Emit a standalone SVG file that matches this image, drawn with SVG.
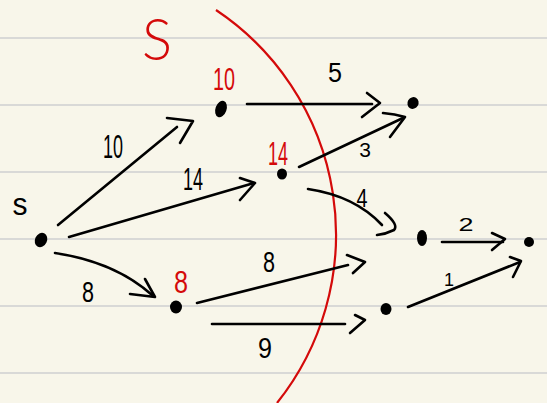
<svg xmlns="http://www.w3.org/2000/svg" width="547" height="403" viewBox="0 0 547 403">
<style>
.bg{fill:#f8f6ea}
.rule{stroke:#d9d9d7;stroke-width:2}
.e{fill:none;stroke:#000;stroke-width:2.6;stroke-linecap:round;stroke-linejoin:round}
.dot{fill:#000}
.lbl{font-family:"Liberation Sans",Arial,sans-serif;fill:#000;text-anchor:middle}
.red{font-family:"Liberation Sans",Arial,sans-serif;fill:#d40a0a;text-anchor:middle}
.big{font-family:Lato,"Open Sans",sans-serif;font-weight:300;fill:#d40a0a;text-anchor:middle}
.cut{fill:none;stroke:#d40a0a;stroke-width:2.2}
</style>
<rect class="bg" x="0" y="0" width="547" height="403"/>
<g id="paper">
<line class="rule" x1="0" y1="38" x2="547" y2="38"/>
<line class="rule" x1="0" y1="105" x2="547" y2="105"/>
<line class="rule" x1="0" y1="172" x2="547" y2="172"/>
<line class="rule" x1="0" y1="239" x2="547" y2="239"/>
<line class="rule" x1="0" y1="306" x2="547" y2="306"/>
<line class="rule" x1="0" y1="373" x2="547" y2="373"/>
</g>
<g id="cut-set">
<path class="cut" d="M216,10 A270 270 0 0 1 277,403"/>
<text class="big" x="157" y="60" font-size="58" textLength="30" lengthAdjust="spacingAndGlyphs">S</text>
</g>
<g id="connectors">
<g id="e-s-a"><path class="e" d="M58,225 L177,127"/><path class="e" d="M167,118 L193,121 L180,143"/><text class="lbl" x="113" y="158" font-size="34" textLength="20" lengthAdjust="spacingAndGlyphs">10</text></g>
<g id="e-s-b"><path class="e" d="M69,237 L254,183"/><path class="e" d="M240,178 L255,183 L240,200"/><text class="lbl" x="193" y="190" font-size="32" textLength="20" lengthAdjust="spacingAndGlyphs">14</text></g>
<g id="e-s-c"><path class="e" d="M55,253 Q115,262 152,295"/><path class="e" d="M145,279 L155,297 L130,294"/><text class="lbl" x="88" y="302" font-size="30" textLength="12" lengthAdjust="spacingAndGlyphs">8</text></g>
<g id="e-a-d"><path class="e" d="M247,104 L372,104"/><path class="e" d="M367,93 L380,103 L362,117"/><text class="lbl" x="335" y="82" font-size="28" textLength="14" lengthAdjust="spacingAndGlyphs">5</text></g>
<g id="e-b-d"><path class="e" d="M299,167 L403,118"/><path class="e" d="M383,113 Q395,114 405,117 L390,137"/><text class="lbl" x="365" y="157" font-size="21">3</text></g>
<g id="e-b-e"><path class="e" d="M308,189 Q355,196 382,225"/><path class="e" d="M385,213 Q399,225 394,230 Q386,234 377,235"/><text class="lbl" x="362" y="207" font-size="26" textLength="11" lengthAdjust="spacingAndGlyphs">4</text></g>
<g id="e-c-x"><path class="e" d="M197,303 L348,265"/><path class="e" d="M347,255 L365,262 L353,273"/><text class="lbl" x="269" y="272" font-size="30" textLength="12" lengthAdjust="spacingAndGlyphs">8</text></g>
<g id="e-c-f"><path class="e" d="M212,324 L345,324"/><path class="e" d="M355,315 L365,320 L350,333"/><text class="lbl" x="265" y="358" font-size="29" textLength="14" lengthAdjust="spacingAndGlyphs">9</text></g>
<g id="e-e-t"><path class="e" d="M442,242 L503,242"/><path class="e" d="M492,233 L505,239 L492,250"/><text class="lbl" x="466" y="231" font-size="19" textLength="15" lengthAdjust="spacingAndGlyphs">2</text></g>
<g id="e-f-t"><path class="e" d="M408,307 L520,262"/><path class="e" d="M510,257 L521,261 L513,277"/><text class="lbl" x="449" y="286" font-size="18">1</text></g>
</g>
<g id="node-s"><ellipse class="dot" cx="41" cy="240" rx="6" ry="7.5" transform="rotate(25 41 240)"/><text class="lbl" x="20" y="215" font-size="32" textLength="15" lengthAdjust="spacingAndGlyphs">s</text></g>
<g id="node-a"><ellipse class="dot" cx="221" cy="109" rx="5.5" ry="8.5" transform="rotate(20 221 109)"/><text class="red" x="224" y="90" font-size="32" textLength="22" lengthAdjust="spacingAndGlyphs">10</text></g>
<g id="node-b"><ellipse class="dot" cx="282" cy="174" rx="5" ry="5.5"/><text class="red" x="278" y="165" font-size="34" textLength="20" lengthAdjust="spacingAndGlyphs">14</text></g>
<g id="node-c"><ellipse class="dot" cx="176" cy="307" rx="6" ry="6.5"/><text class="red" x="181" y="293" font-size="32" textLength="14" lengthAdjust="spacingAndGlyphs">8</text></g>
<g id="node-d"><ellipse class="dot" cx="413" cy="103" rx="5.5" ry="6" transform="rotate(30 413 103)"/></g>
<g id="node-e"><ellipse class="dot" cx="422" cy="238" rx="5" ry="8"/></g>
<g id="node-f"><ellipse class="dot" cx="386" cy="309" rx="5.5" ry="6"/></g>
<g id="node-t"><ellipse class="dot" cx="529" cy="242" rx="5" ry="5"/></g>
</svg>
